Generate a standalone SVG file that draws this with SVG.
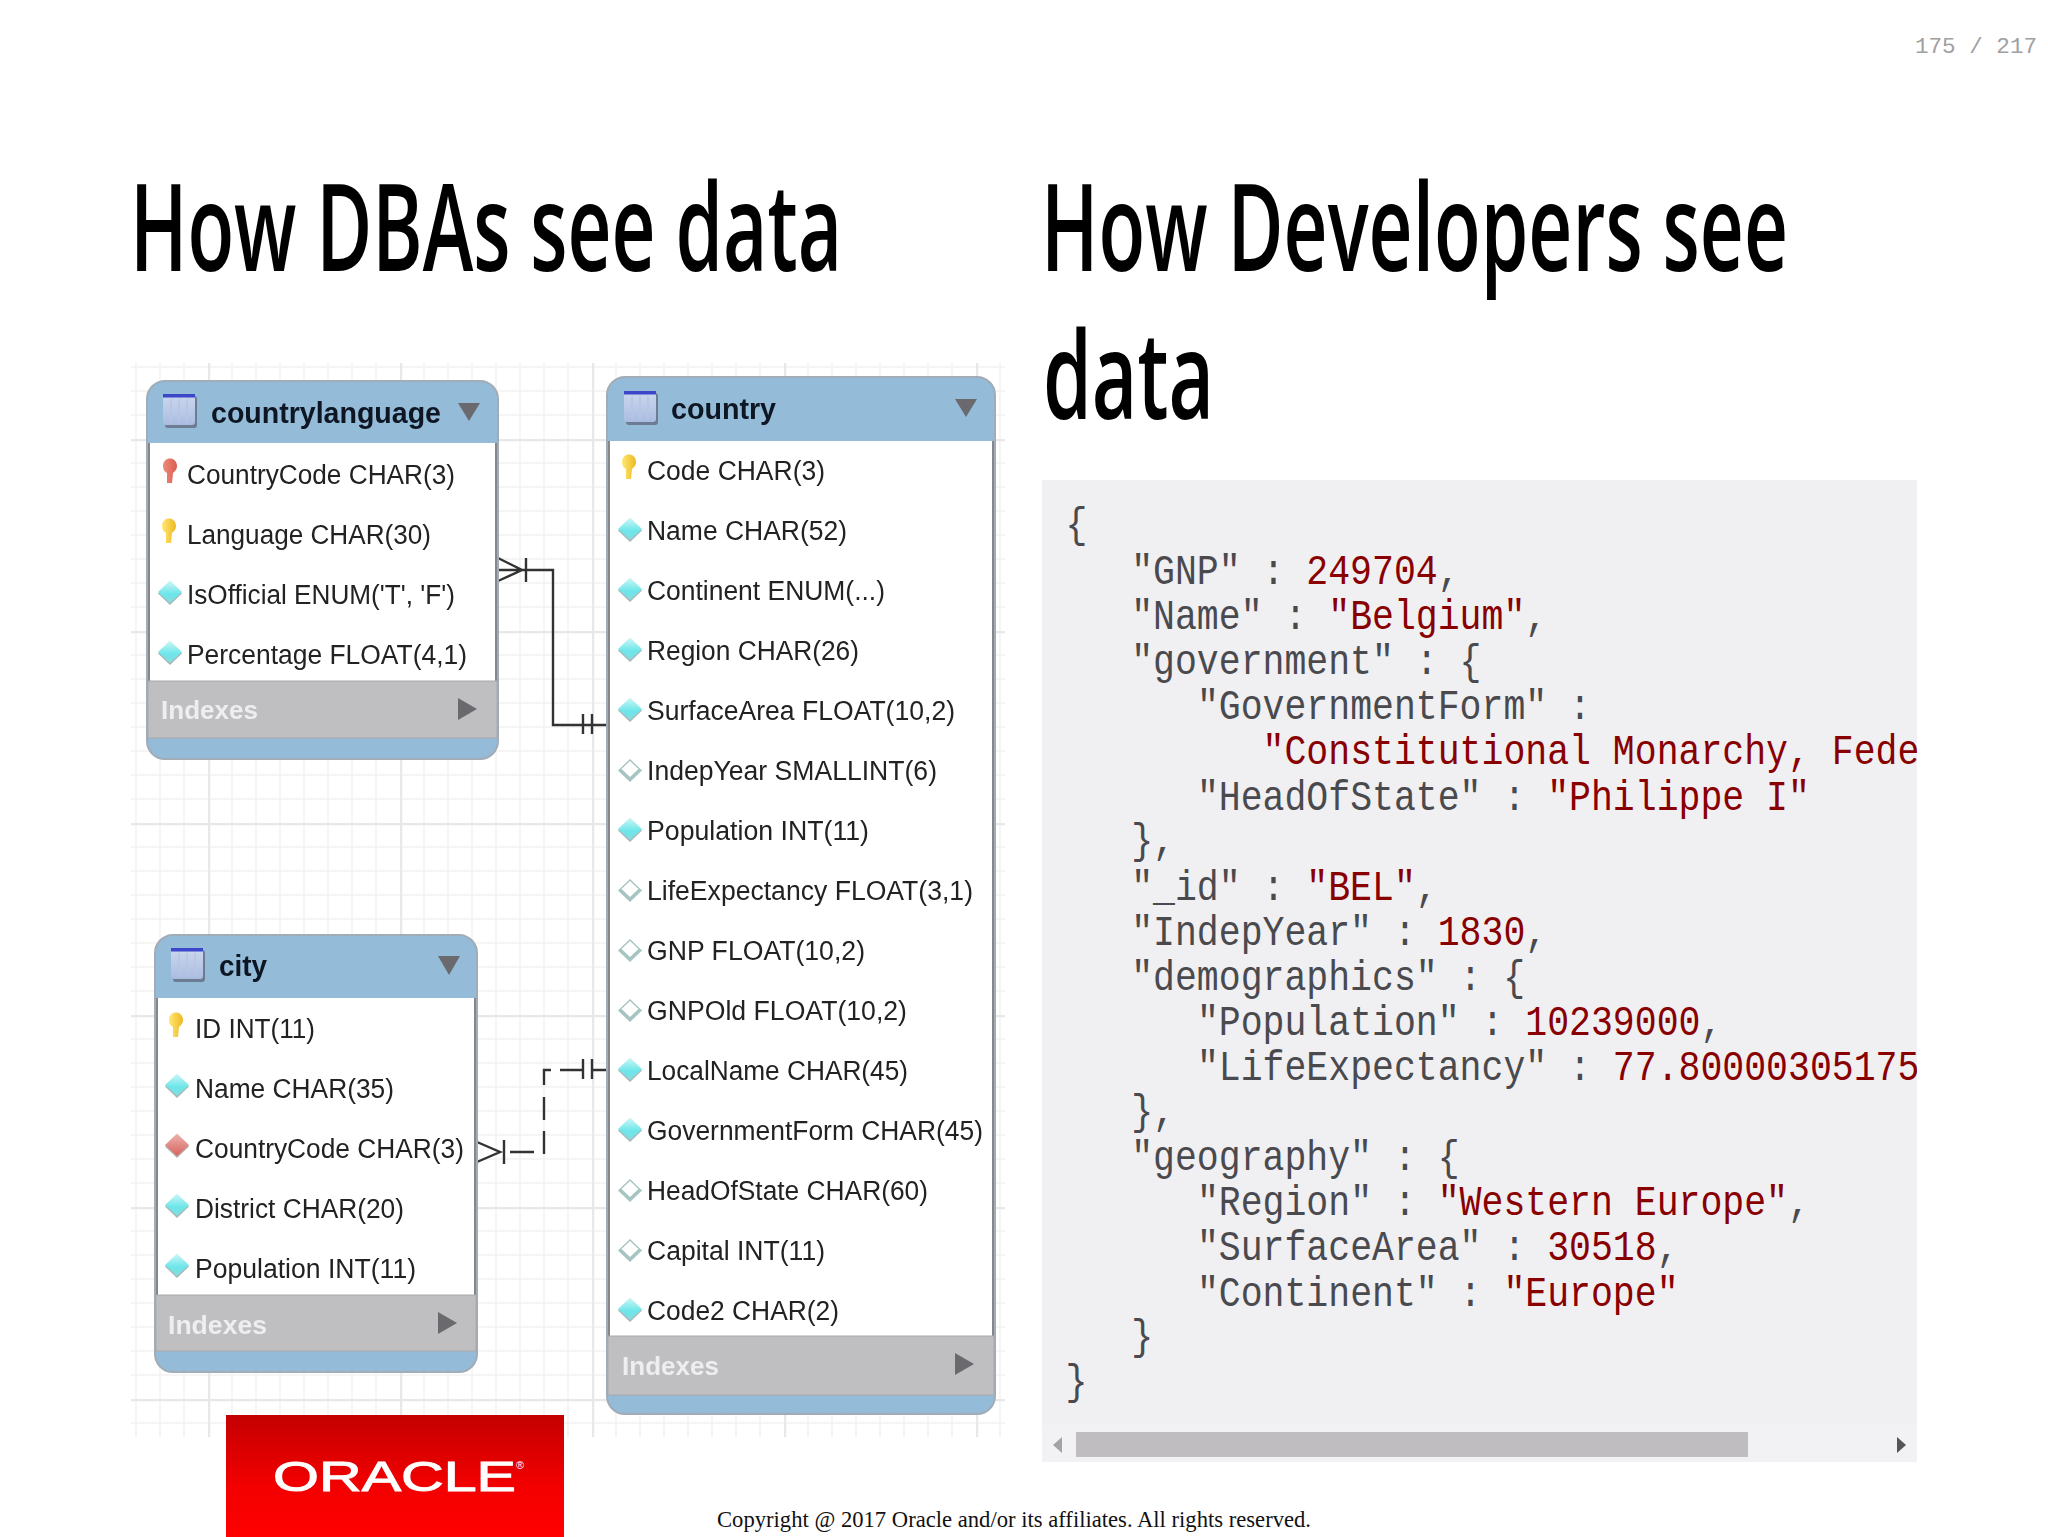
<svg xmlns="http://www.w3.org/2000/svg" xmlns:xlink="http://www.w3.org/1999/xlink" width="2048" height="1537" viewBox="0 0 2048 1537">
<style>
.title{font-family:"Open Sans","Liberation Sans",sans-serif;font-weight:600;font-size:122px;fill:#000}
.row{font-family:"Liberation Sans",Arial,sans-serif;font-size:27px;fill:#222}
.head{font-family:"Liberation Sans",Arial,sans-serif;font-size:29px;font-weight:700;fill:#0c1622}
.idx{font-family:"Liberation Sans",Arial,sans-serif;font-size:26px;font-weight:700;fill:#eeeef0}
.tri{fill:#6a6a6e}
.shell{fill:#94bbd8;stroke:#a2acb6;stroke-width:2}
.body{fill:#fff}
.side{fill:none;stroke:#85878a;stroke-width:2}
.band{fill:#bfbec1;stroke:#a9a9ac;stroke-width:1}
.conn{fill:none;stroke:#333;stroke-width:2.4}
.code{font-family:"Liberation Mono","Courier New",monospace;font-size:42px;fill:#4a4a4e}
.val{fill:#880000}
.soft{filter:url(#soft)}
</style>
<defs>
<filter id="soft" x="-5%" y="-5%" width="110%" height="110%"><feGaussianBlur stdDeviation="0.55"/></filter>
<pattern id="grid" patternUnits="userSpaceOnUse" x="16" y="55" width="192" height="192">
<path d="M24 0V192M48 0V192M72 0V192M96 0V192M120 0V192M144 0V192M168 0V192M0 24H192M0 48H192M0 72H192M0 96H192M0 120H192M0 144H192M0 168H192" fill="none" stroke="#f2f2f4" stroke-width="1.5"/>
<path d="M1 0V192M0 1H192" fill="none" stroke="#e8e8eb" stroke-width="2.5"/>
</pattern>
<linearGradient id="cyan" x1="0" y1="0" x2="0" y2="1"><stop offset="0" stop-color="#d2f6f6"/><stop offset=".6" stop-color="#6ce6ea"/><stop offset="1" stop-color="#86dcdf"/></linearGradient>
<linearGradient id="red" x1="0" y1="0" x2="0" y2="1"><stop offset="0" stop-color="#eeb4b0"/><stop offset="1" stop-color="#d8625c"/></linearGradient>
<linearGradient id="gold" x1="0" y1="0" x2="1" y2="0"><stop offset="0" stop-color="#ffe873"/><stop offset="1" stop-color="#eeb822"/></linearGradient>
<linearGradient id="rust" x1="0" y1="0" x2="1" y2="0"><stop offset="0" stop-color="#ee8a7c"/><stop offset="1" stop-color="#d85e50"/></linearGradient>
<linearGradient id="tbl" x1="0" y1="0" x2="0" y2="1"><stop offset="0" stop-color="#cdd8ee"/><stop offset="1" stop-color="#a9bde2"/></linearGradient>
<linearGradient id="ora" x1="0" y1="0" x2="0" y2="1"><stop offset="0" stop-color="#c40000"/><stop offset=".6" stop-color="#f40000"/><stop offset="1" stop-color="#ff0000"/></linearGradient>
<g id="dF"><path d="M0-10L12 1.500 0 13-12 1.500Z" fill="#a9b6b6"/><path d="M0-11.500L12 0 0 11L-12 0Z" fill="url(#cyan)"/></g>
<g id="dH"><path d="M0-10L12 1.500 0 13-12 1.500Z" fill="#a6c4c2"/><path d="M0-8L8.500 0 0 8-8.500 0Z" fill="#fff"/></g>
<g id="dR"><path d="M0-10L12 1.500 0 13-12 1.500Z" fill="#b5b0b0"/><path d="M0-11.500L12 0 0 11-12 0Z" fill="url(#red)"/></g>
<path id="kY" d="M-7-17C-7-27 7-27 7-17C7-13 4-11 3-10L2 0H-3L-3-10C-5-11-7-13-7-17Z" fill="url(#gold)"/>
<path id="kR" d="M-7-17C-7-27 7-27 7-17C7-13 4-11 3-10L2 0H-3L-3-10C-5-11-7-13-7-17Z" fill="url(#rust)"/>
<g id="tb"><rect x="2" y="2" width="32" height="32" rx="3" fill="#6d7b92"/><rect x="0" y="0" width="32" height="31" rx="3" fill="url(#tbl)"/><rect x="0" y="0" width="32" height="3.500" fill="#3a46c8"/><path d="M8 5V29M16 5V29M24 5V29" stroke="#b9c4df" stroke-width="1.500"/></g>
<clipPath id="panelClip"><rect x="1042" y="480" width="875" height="982"/></clipPath>
</defs>

<rect width="2048" height="1537" fill="#fff"/>
<text x="1915" y="53" font-family="'Liberation Mono','Courier New',monospace" font-size="22.600" fill="#a0a0a0">175 / 217</text>

<text class="title" x="130" y="271" textLength="712" lengthAdjust="spacingAndGlyphs">How DBAs see data</text>
<text class="title" x="1041" y="271" textLength="747" lengthAdjust="spacingAndGlyphs">How Developers see</text>
<text class="title" x="1043" y="419" textLength="171" lengthAdjust="spacingAndGlyphs">data</text>

<rect id="er-grid" x="131" y="363" width="874" height="1074" fill="url(#grid)"/>

<g id="connectors" class="soft">
<path class="conn" d="M498 570H553V725H607M498 558L522 570L498 581M526 558V582M583 714V734M592 714V734"/>
<path class="conn" d="M477 1142L500 1152L477 1162M504 1140V1164M510 1152H534M544 1154V1131M544 1120V1097M544 1085V1070H551M560 1070H583M583 1059V1079M592 1059V1079M592 1070H607"/>
</g>

<g id="countrylanguage" class="soft">
<rect class="shell" x="147" y="381" width="351" height="378" rx="18"/>
<rect class="body" x="149" y="443" width="347" height="238"/>
<path class="side" d="M149 443V681M496 443V681"/>
<rect class="band" x="148" y="681" width="349" height="57"/>
<use href="#tb" x="163" y="394"/>
<text class="head" x="211" y="423" textLength="230" lengthAdjust="spacingAndGlyphs">countrylanguage</text>
<path class="tri" d="M458 403H480L469 421Z"/>
<use href="#kR" x="170" y="483"/>
<text class="row" x="187" y="484" textLength="268" lengthAdjust="spacingAndGlyphs">CountryCode CHAR(3)</text>
<use href="#kY" x="169" y="543"/>
<text class="row" x="187" y="544" textLength="244" lengthAdjust="spacingAndGlyphs">Language CHAR(30)</text>
<use href="#dF" x="170" y="592"/>
<text class="row" x="187" y="604" textLength="268" lengthAdjust="spacingAndGlyphs">IsOfficial ENUM('T', 'F')</text>
<use href="#dF" x="170" y="652"/>
<text class="row" x="187" y="664" textLength="280" lengthAdjust="spacingAndGlyphs">Percentage FLOAT(4,1)</text>
<text class="idx" x="161" y="719" textLength="97" lengthAdjust="spacingAndGlyphs">Indexes</text>
<path class="tri" d="M458 698L477 709L458 720Z"/>
</g>

<g id="country" class="soft">
<rect class="shell" x="607" y="377" width="388" height="1037" rx="18"/>
<rect class="body" x="609" y="441" width="384" height="895"/>
<path class="side" d="M609 441V1336M993 441V1336"/>
<rect class="band" x="608" y="1336" width="386" height="59"/>
<use href="#tb" x="624" y="391"/>
<text class="head" x="671" y="419" textLength="105" lengthAdjust="spacingAndGlyphs">country</text>
<path class="tri" d="M955 399H977L966 417Z"/>
<use href="#kY" x="629" y="479"/>
<text class="row" x="647" y="480" textLength="178" lengthAdjust="spacingAndGlyphs">Code CHAR(3)</text>
<use href="#dF" x="630" y="529"/>
<text class="row" x="647" y="540" textLength="200" lengthAdjust="spacingAndGlyphs">Name CHAR(52)</text>
<use href="#dF" x="630" y="589"/>
<text class="row" x="647" y="600" textLength="238" lengthAdjust="spacingAndGlyphs">Continent ENUM(...)</text>
<use href="#dF" x="630" y="649"/>
<text class="row" x="647" y="660" textLength="212" lengthAdjust="spacingAndGlyphs">Region CHAR(26)</text>
<use href="#dF" x="630" y="709"/>
<text class="row" x="647" y="720" textLength="308" lengthAdjust="spacingAndGlyphs">SurfaceArea FLOAT(10,2)</text>
<use href="#dH" x="630" y="769"/>
<text class="row" x="647" y="780" textLength="290" lengthAdjust="spacingAndGlyphs">IndepYear SMALLINT(6)</text>
<use href="#dF" x="630" y="829"/>
<text class="row" x="647" y="840" textLength="222" lengthAdjust="spacingAndGlyphs">Population INT(11)</text>
<use href="#dH" x="630" y="889"/>
<text class="row" x="647" y="900" textLength="326" lengthAdjust="spacingAndGlyphs">LifeExpectancy FLOAT(3,1)</text>
<use href="#dH" x="630" y="949"/>
<text class="row" x="647" y="960" textLength="218" lengthAdjust="spacingAndGlyphs">GNP FLOAT(10,2)</text>
<use href="#dH" x="630" y="1009"/>
<text class="row" x="647" y="1020" textLength="260" lengthAdjust="spacingAndGlyphs">GNPOld FLOAT(10,2)</text>
<use href="#dF" x="630" y="1069"/>
<text class="row" x="647" y="1080" textLength="261" lengthAdjust="spacingAndGlyphs">LocalName CHAR(45)</text>
<use href="#dF" x="630" y="1129"/>
<text class="row" x="647" y="1140" textLength="336" lengthAdjust="spacingAndGlyphs">GovernmentForm CHAR(45)</text>
<use href="#dH" x="630" y="1189"/>
<text class="row" x="647" y="1200" textLength="281" lengthAdjust="spacingAndGlyphs">HeadOfState CHAR(60)</text>
<use href="#dH" x="630" y="1249"/>
<text class="row" x="647" y="1260" textLength="178" lengthAdjust="spacingAndGlyphs">Capital INT(11)</text>
<use href="#dF" x="630" y="1309"/>
<text class="row" x="647" y="1320" textLength="192" lengthAdjust="spacingAndGlyphs">Code2 CHAR(2)</text>
<text class="idx" x="622" y="1375" textLength="97" lengthAdjust="spacingAndGlyphs">Indexes</text>
<path class="tri" d="M955 1353L974 1364L955 1375Z"/>
</g>

<g id="city" class="soft">
<rect class="shell" x="155" y="935" width="322" height="437" rx="18"/>
<rect class="body" x="157" y="998" width="318" height="297"/>
<path class="side" d="M157 998V1295M475 998V1295"/>
<rect class="band" x="156" y="1295" width="320" height="56"/>
<use href="#tb" x="171" y="948"/>
<text class="head" x="219" y="976" textLength="48" lengthAdjust="spacingAndGlyphs">city</text>
<path class="tri" d="M438 956H460L449 975Z"/>
<use href="#kY" x="176" y="1037"/>
<text class="row" x="195" y="1038" textLength="120" lengthAdjust="spacingAndGlyphs">ID INT(11)</text>
<use href="#dF" x="177" y="1085"/>
<text class="row" x="195" y="1098" textLength="199" lengthAdjust="spacingAndGlyphs">Name CHAR(35)</text>
<use href="#dR" x="177" y="1145"/>
<text class="row" x="195" y="1158" textLength="269" lengthAdjust="spacingAndGlyphs">CountryCode CHAR(3)</text>
<use href="#dF" x="177" y="1205"/>
<text class="row" x="195" y="1218" textLength="209" lengthAdjust="spacingAndGlyphs">District CHAR(20)</text>
<use href="#dF" x="177" y="1265"/>
<text class="row" x="195" y="1278" textLength="221" lengthAdjust="spacingAndGlyphs">Population INT(11)</text>
<text class="idx" x="168" y="1334" textLength="99" lengthAdjust="spacingAndGlyphs">Indexes</text>
<path class="tri" d="M438 1312L457 1323L438 1334Z"/>
</g>

<g id="oracle-logo">
<rect x="226" y="1415" width="338" height="122" fill="url(#ora)"/>
<text x="273" y="1491" font-family="'Liberation Sans',Arial,sans-serif" font-size="42px" fill="#fff" stroke="#fff" stroke-width="1" textLength="243" lengthAdjust="spacingAndGlyphs">ORACLE</text>
<text x="516" y="1469" font-family="'Liberation Sans',Arial,sans-serif" font-size="11px" fill="#fff">®</text>
</g>

<g id="json-panel">
<rect x="1042" y="480" width="875" height="982" fill="#f0eff2"/>
<g clip-path="url(#panelClip)">
<g class="code" transform="translate(1065.500 0) scale(.869 1)">
<text x="0" y="537">{</text>
<text x="75.600" y="584">"GNP" : <tspan class="val">249704</tspan>,</text>
<text x="75.600" y="629">"Name" : <tspan class="val">"Belgium"</tspan>,</text>
<text x="75.600" y="674">"government" : {</text>
<text x="151.200" y="719">"GovernmentForm" :</text>
<text x="226.800" y="764" class="val">"Constitutional Monarchy, Fede</text>
<text x="151.200" y="810">"HeadOfState" : <tspan class="val">"Philippe I"</tspan></text>
<text x="75.600" y="853">},</text>
<text x="75.600" y="900">"_id" : <tspan class="val">"BEL"</tspan>,</text>
<text x="75.600" y="945">"IndepYear" : <tspan class="val">1830</tspan>,</text>
<text x="75.600" y="990">"demographics" : {</text>
<text x="151.200" y="1035">"Population" : <tspan class="val">10239000</tspan>,</text>
<text x="151.200" y="1080">"LifeExpectancy" : <tspan class="val">77.80000305175</tspan></text>
<text x="75.600" y="1124">},</text>
<text x="75.600" y="1170">"geography" : {</text>
<text x="151.200" y="1215">"Region" : <tspan class="val">"Western Europe"</tspan>,</text>
<text x="151.200" y="1260">"SurfaceArea" : <tspan class="val">30518</tspan>,</text>
<text x="151.200" y="1306">"Continent" : <tspan class="val">"Europe"</tspan></text>
<text x="75.600" y="1349">}</text>
<text x="0" y="1394">}</text>
</g>
</g>
<rect x="1042" y="1425" width="875" height="37" fill="#f2f1f3"/>
<rect x="1076" y="1432" width="672" height="25" fill="#bfbdc0"/>
<path d="M1062 1437V1453L1053 1445Z" fill="#a3a2a6"/>
<path d="M1897 1437V1453L1906 1445Z" fill="#555559"/>
</g>

<text x="717" y="1527" font-family="'Liberation Serif','Times New Roman',serif" font-size="24px" fill="#111" textLength="594" lengthAdjust="spacingAndGlyphs">Copyright @ 2017 Oracle and/or its affiliates. All rights reserved.</text>
</svg>
